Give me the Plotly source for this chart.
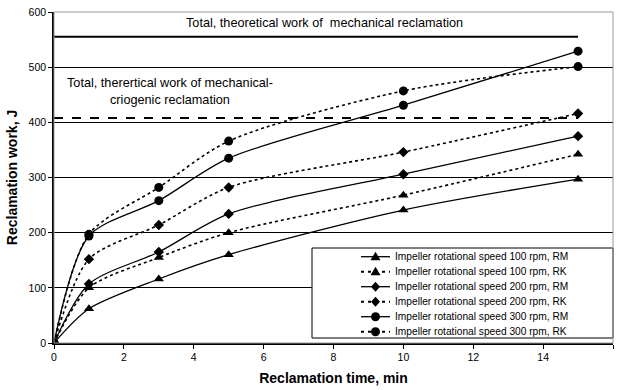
import plotly.graph_objects as go

time_min = [0, 1, 3, 5, 10, 15]
rm_100 = [0, 62, 116, 160, 241, 297]
rk_100 = [0, 100, 155, 200, 268, 342]
rm_200 = [0, 107, 165, 234, 306, 375]
rk_200 = [0, 152, 214, 282, 346, 416]
rm_300 = [0, 194, 258, 335, 431, 529]
rk_300 = [0, 197, 282, 366, 457, 501]

theo_mech = 555
theo_cryo = 408
theo_x = [0, 15]

series = [
    ("Impeller rotational speed 100 rpm, RM", rm_100, "solid", "triangle-up", 9),
    ("Impeller rotational speed 100 rpm, RK", rk_100, "dot", "triangle-up", 9),
    ("Impeller rotational speed 200 rpm, RM", rm_200, "solid", "diamond", 8),
    ("Impeller rotational speed 200 rpm, RK", rk_200, "dot", "diamond", 8),
    ("Impeller rotational speed 300 rpm, RM", rm_300, "solid", "circle", 9),
    ("Impeller rotational speed 300 rpm, RK", rk_300, "dot", "circle", 9),
]

# plot-area pixel geometry (for the hand-made legend box)
L, R, T, B = 54, 613, 12, 343
W, H = 618, 390
def px_x(p):
    return (p - L) / (R - L)
def px_y(p):
    return (B - p) / (B - T)

# legend marker glyph paths (pixel offsets, y up)
glyph_paths = {
    "triangle-up": "M-5,-3.5 L5,-3.5 L0,5 Z",
    "diamond": "M0,-5 L4.5,0 L0,5 L-4.5,0 Z",
}

fig = go.Figure()

fig.add_trace(go.Scatter(x=theo_x, y=[theo_mech] * 2, mode="lines",
                         line=dict(color="black", width=2), showlegend=False, hoverinfo="skip"))
fig.add_trace(go.Scatter(x=theo_x, y=[theo_cryo] * 2, mode="lines",
                         line=dict(color="black", width=2, dash="dash"), showlegend=False, hoverinfo="skip"))

for name, vals, dash, sym, sz in series:
    fig.add_trace(go.Scatter(
        x=time_min, y=vals, name=name, mode="lines+markers", showlegend=False,
        line=dict(color="black", width=1.3 if dash == "solid" else 1.6, dash=dash, shape="spline", smoothing=0.8),
        marker=dict(symbol=sym, size=sz, color="black"),
    ))

# legend box (custom so that rows are as tight as in the reference)
fig.add_shape(type="rect", xref="paper", yref="paper",
              x0=px_x(312), x1=px_x(613), y0=px_y(338), y1=px_y(248),
              line=dict(color="black", width=1), fillcolor="white", layer="above")
row_py = [256.7, 271.7, 286.7, 301.7, 316.7, 331.7]
for (name, vals, dash, sym, sz), py in zip(series, row_py):
    yy = px_y(py)
    fig.add_shape(type="line", xref="paper", yref="paper", x0=px_x(361), x1=px_x(390), y0=yy, y1=yy,
                  line=dict(color="black", width=1.3 if dash == "solid" else 2,
                            dash="solid" if dash == "solid" else "3px,4px"), layer="above")
    if sym == "circle":
        fig.add_shape(type="circle", xref="paper", yref="paper", xsizemode="pixel", ysizemode="pixel",
                      xanchor=px_x(375.5), yanchor=yy, x0=-4.5, x1=4.5, y0=-4.5, y1=4.5,
                      fillcolor="black", line=dict(width=0), layer="above")
    else:
        fig.add_shape(type="path", xref="paper", yref="paper", xsizemode="pixel", ysizemode="pixel",
                      xanchor=px_x(375.5), yanchor=yy, path=glyph_paths[sym],
                      fillcolor="black", line=dict(width=0), layer="above")
    fig.add_annotation(x=px_x(392.5), y=yy, xref="paper", yref="paper", xanchor="left", yanchor="middle",
                       text=name, showarrow=False, font=dict(size=10.2, color="black"))

fig.add_annotation(x=7.74, y=580, xref="x", yref="y", text="Total, theoretical work of  mechanical reclamation",
                   showarrow=False, font=dict(size=12.7, color="black"))
fig.add_annotation(x=3.33, y=455, xref="x", yref="y",
                   text="Total, therertical work of mechanical-<br>criogenic reclamation",
                   showarrow=False, align="center", font=dict(size=12.7, color="black"))

fig.add_shape(type="rect", xref="paper", yref="paper", x0=0, x1=1, y0=0, y1=1,
              line=dict(color="#999999", width=1), layer="above")

fig.update_layout(
    width=W, height=H,
    margin=dict(l=L, r=W - R, t=T, b=H - B),
    paper_bgcolor="white", plot_bgcolor="white",
    font=dict(family="Liberation Sans, Arial, sans-serif", color="black", size=10),
    showlegend=False,
    xaxis=dict(range=[0, 16], dtick=2, showgrid=False, zeroline=False,
               showline=True, linecolor="black", linewidth=1.5,
               ticks="outside", ticklen=4, tickcolor="black",
               title=dict(text="<b>Reclamation time, min</b>", font=dict(size=14), standoff=11),
               tickfont=dict(size=10.5)),
    yaxis=dict(range=[0, 600], dtick=100, showgrid=True, gridcolor="black", gridwidth=1,
               zeroline=False, showline=True, linecolor="black", linewidth=1.5,
               ticks="outside", ticklen=4, tickcolor="black",
               title=dict(text="<b>Reclamation work, J</b>", font=dict(size=14), standoff=8),
               tickfont=dict(size=10.5)),
)

fig.write_html("out.html", config={"displayModeBar": False},
               post_script="document.body.style.margin='0';")
